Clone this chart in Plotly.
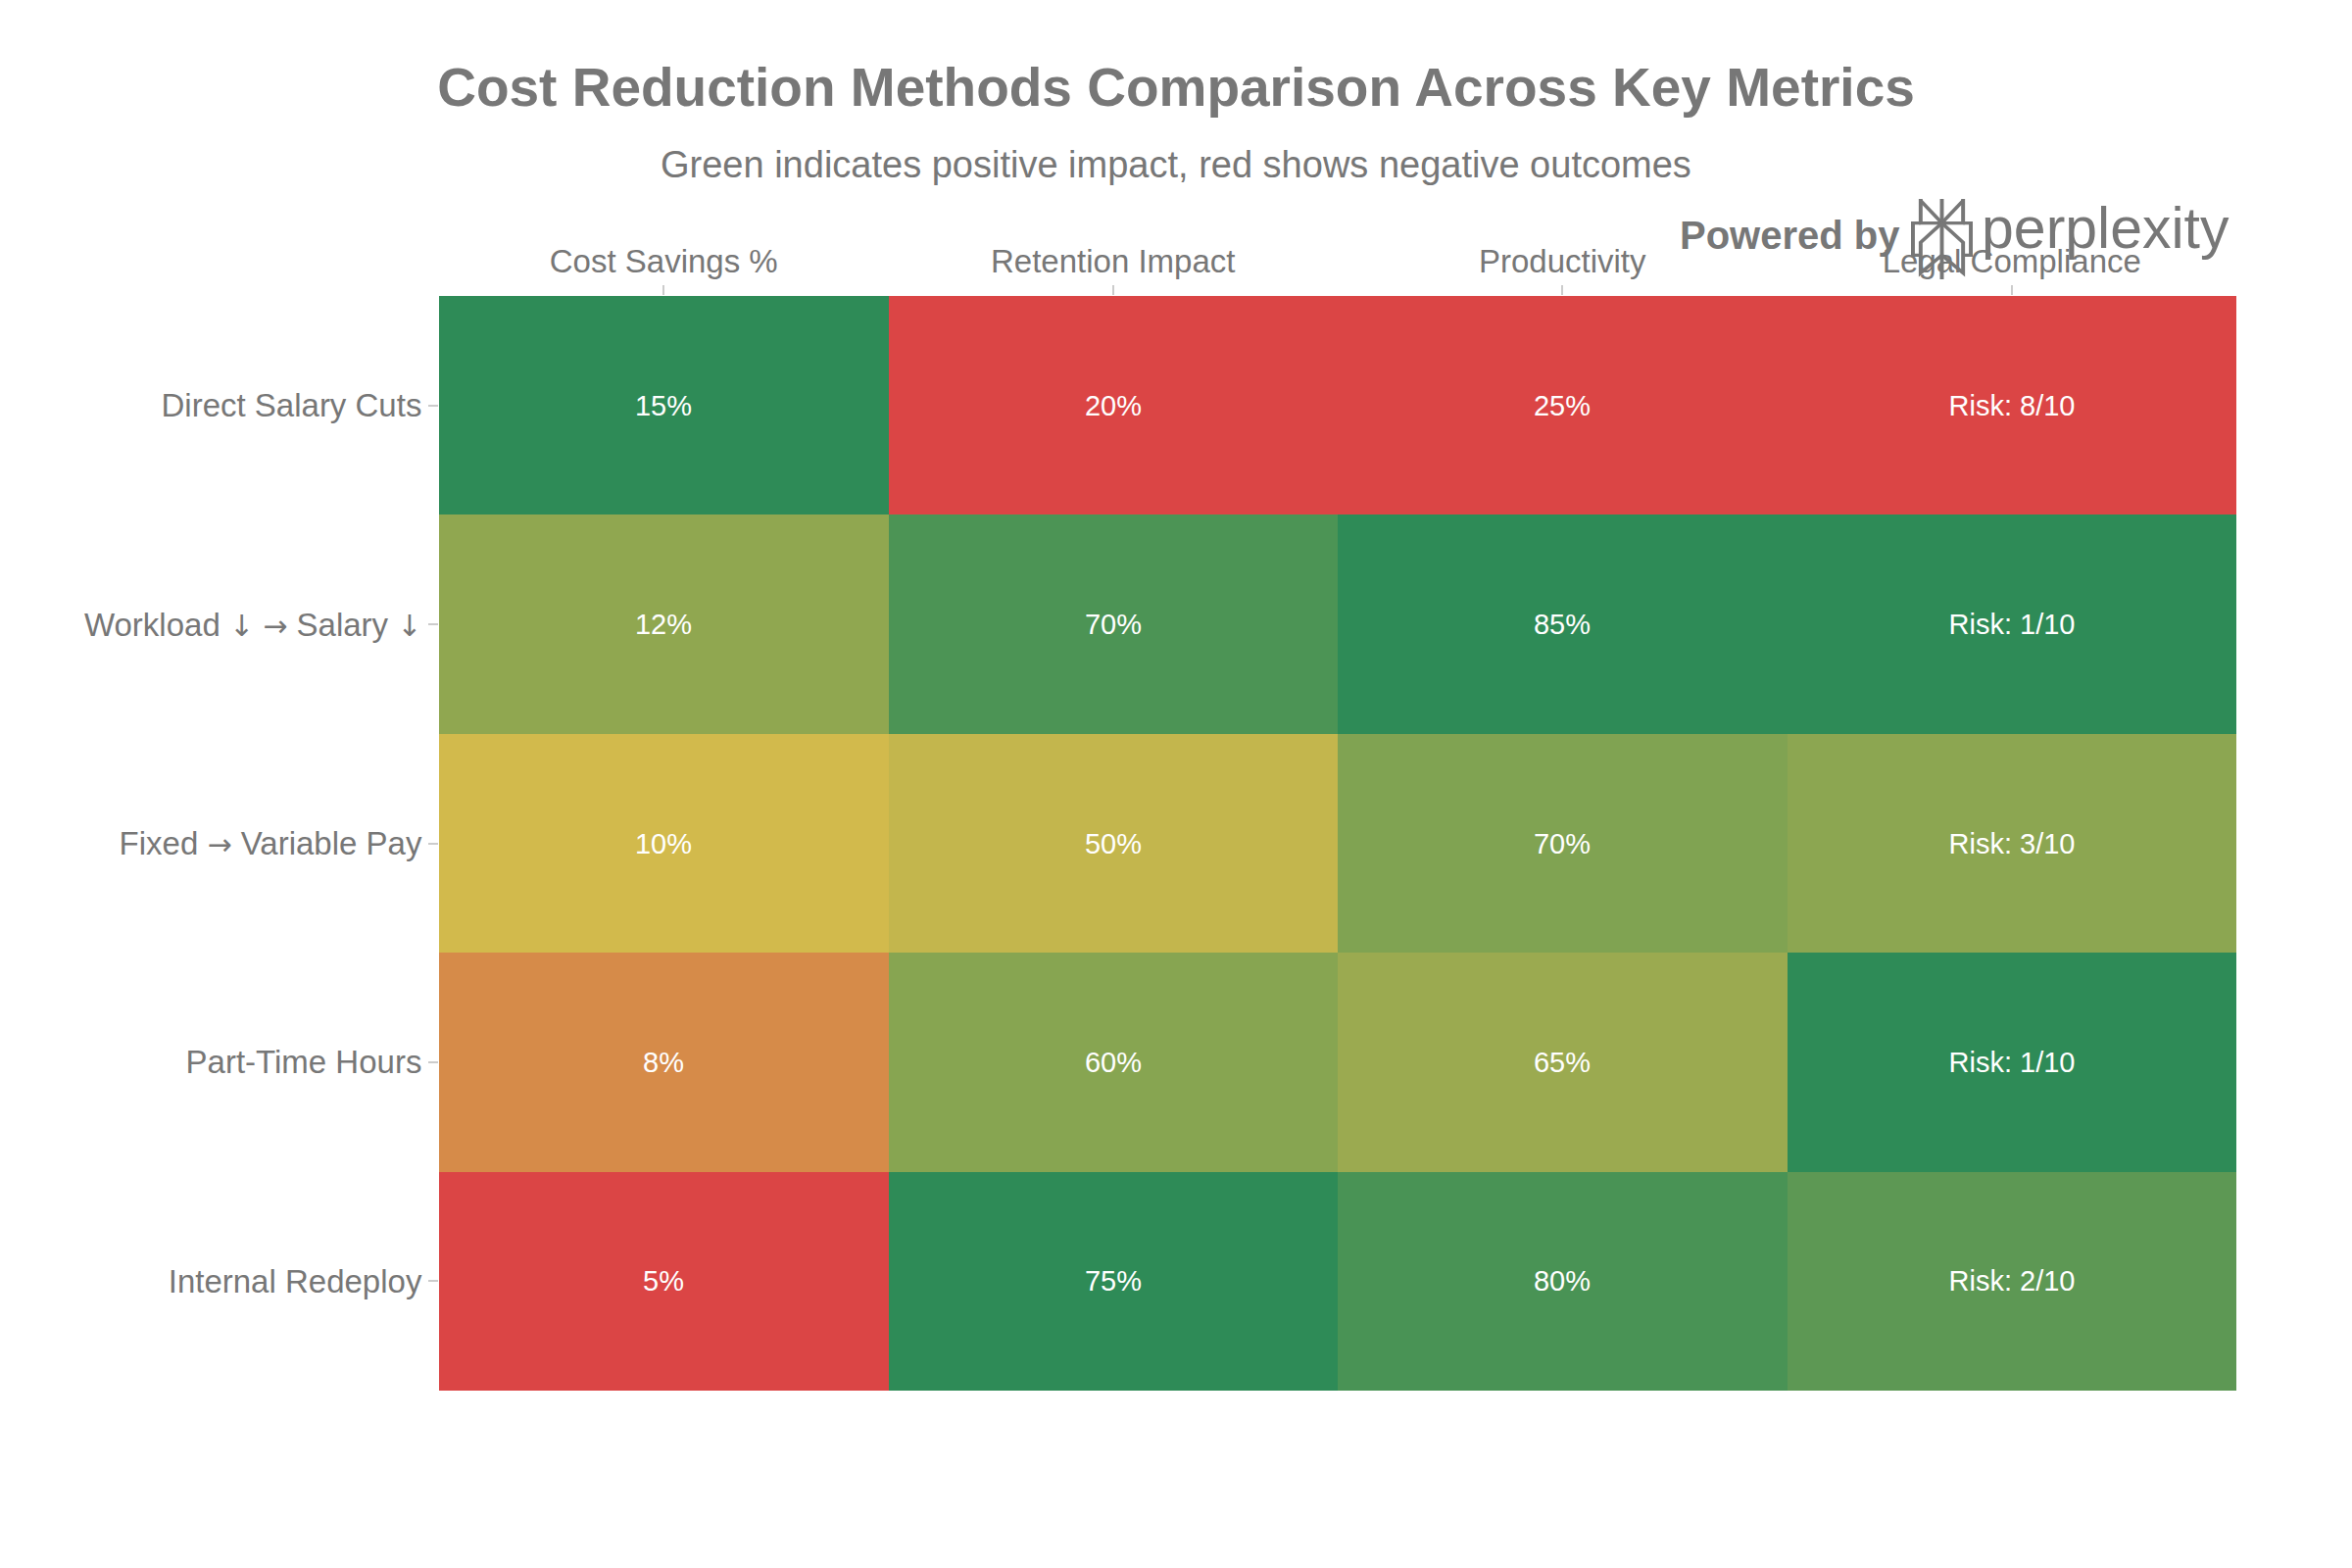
import base64
import plotly.graph_objects as go

# ---- data ----
methods = ["Direct Salary Cuts", "Workload ↓ → Salary ↓", "Fixed → Variable Pay",
           "Part-Time Hours", "Internal Redeploy"]
metrics = ["Cost Savings %", "Retention Impact", "Productivity", "Legal Compliance"]
cost_savings = [15, 12, 10, 8, 5]          # %
retention_impact = [20, 70, 50, 60, 75]    # %
productivity = [25, 85, 70, 65, 80]        # %
legal_risk = [8, 1, 3, 1, 2]               # risk out of 10 (lower is better)


def norm(vals, invert=False):
    lo, hi = min(vals), max(vals)
    out = [(v - lo) / (hi - lo) for v in vals]
    return [1 - o for o in out] if invert else out


cols_score = [norm(cost_savings), norm(retention_impact), norm(productivity),
              norm(legal_risk, invert=True)]
cols_text = [[f"{v}%" for v in cost_savings],
             [f"{v}%" for v in retention_impact],
             [f"{v}%" for v in productivity],
             [f"Risk: {v}/10" for v in legal_risk]]

z = [[cols_score[j][i] for j in range(len(metrics))] for i in range(len(methods))]
text = [[cols_text[j][i] for j in range(len(metrics))] for i in range(len(methods))]

# arrows rendered in a font that has full-size arrow glyphs
ARROW_FONT = "DejaVu Sans"
method_labels = [m.replace("↓", f"<span style='font-family:{ARROW_FONT};font-size:30px'>↓</span>")
                  .replace("→", f"<span style='font-family:{ARROW_FONT};font-size:30px'>→</span>")
                 for m in methods]

W, H = 2400, 1600
OFF = 8  # page offset of the rendered figure
# target plot area in the photographed page
X0, X1, Y0, Y1 = 448, 2282, 302, 1419
L, T = X0 - OFF, Y0 - OFF
R, B = W - (X1 - OFF), H - (Y1 - OFF)
PW, PH = X1 - X0, Y1 - Y0


def px(x):
    return (x - X0) / PW


def py(y):
    return (Y1 - y) / PH


GRAY = "#777777"
FONT = "Liberation Sans, Arial, Helvetica, sans-serif"

fig = go.Figure(go.Heatmap(
    z=z, x=metrics, y=methods, text=text, texttemplate="%{text}",
    textfont=dict(color="white", size=29, family=FONT),
    colorscale=[[0, "#DB4545"], [0.5, "#D2BA4C"], [1, "#2E8B57"]],
    zmin=0, zmax=1, showscale=False, hoverinfo="skip"))

fig.update_layout(
    width=W, height=H,
    margin=dict(l=L, r=R, t=T, b=B),
    paper_bgcolor="white", plot_bgcolor="white",
    font=dict(family=FONT, color=GRAY, size=33),
    title=dict(text="<b>Cost Reduction Methods Comparison Across Key Metrics</b>",
               x=(1200 - OFF) / W, xref="container", xanchor="center",
               y=1 - (89 - OFF) / H, yref="container", yanchor="middle",
               font=dict(size=55, color=GRAY, family=FONT)),
    xaxis=dict(side="top", showgrid=False, zeroline=False, showline=False,
               ticks="outside", ticklen=10, tickwidth=2, tickcolor="#cccccc",
               tickfont=dict(size=33, color=GRAY)),
    yaxis=dict(autorange="reversed", showgrid=False, zeroline=False, showline=False,
               ticks="outside", ticklen=10, tickwidth=2, tickcolor="#cccccc",
               tickvals=methods, ticktext=method_labels,
               tickfont=dict(size=33, color=GRAY)),
)

fig.add_annotation(text="Green indicates positive impact, red shows negative outcomes",
                   xref="paper", yref="paper", x=px(1200), y=py(168),
                   xanchor="center", yanchor="middle", showarrow=False,
                   font=dict(size=38, color=GRAY, family=FONT))

# "Powered by perplexity" badge
fig.add_annotation(text="<b>Powered by</b>", xref="paper", yref="paper",
                   x=px(1712), y=py(240), xanchor="left", yanchor="middle",
                   showarrow=False, font=dict(size=40, color=GRAY, family=FONT))
fig.add_annotation(text="perplexity", xref="paper", yref="paper",
                   x=px(2020), y=py(233), xanchor="left", yanchor="middle",
                   showarrow=False, font=dict(size=59, color=GRAY, family=FONT))

svg = """<svg xmlns='http://www.w3.org/2000/svg' viewBox='0 0 64 100' width='64' height='100' preserveAspectRatio='none'>
<g fill='none' stroke='#777777' stroke-width='4' stroke-linejoin='miter'>
<line x1='32' y1='0' x2='32' y2='100'/>
<polyline points='10,0 10,30 54,30 54,0'/>
<line x1='10' y1='2' x2='32' y2='30'/>
<line x1='54' y1='2' x2='32' y2='30'/>
<polyline points='10,30 2,30 2,70 10,70'/>
<polyline points='54,30 62,30 62,70 54,70'/>
<polyline points='32,30 10,54 10,92 32,70'/>
<polyline points='32,30 54,54 54,92 32,70'/>
</g></svg>"""
src = "data:image/svg+xml;base64," + base64.b64encode(svg.encode()).decode()
fig.add_layout_image(source=src, xref="paper", yref="paper",
                     x=px(1950), y=py(203), sizex=63 / PW, sizey=82 / PH,
                     xanchor="left", yanchor="top", sizing="stretch", layer="above")

fig.write_html("out.html")
